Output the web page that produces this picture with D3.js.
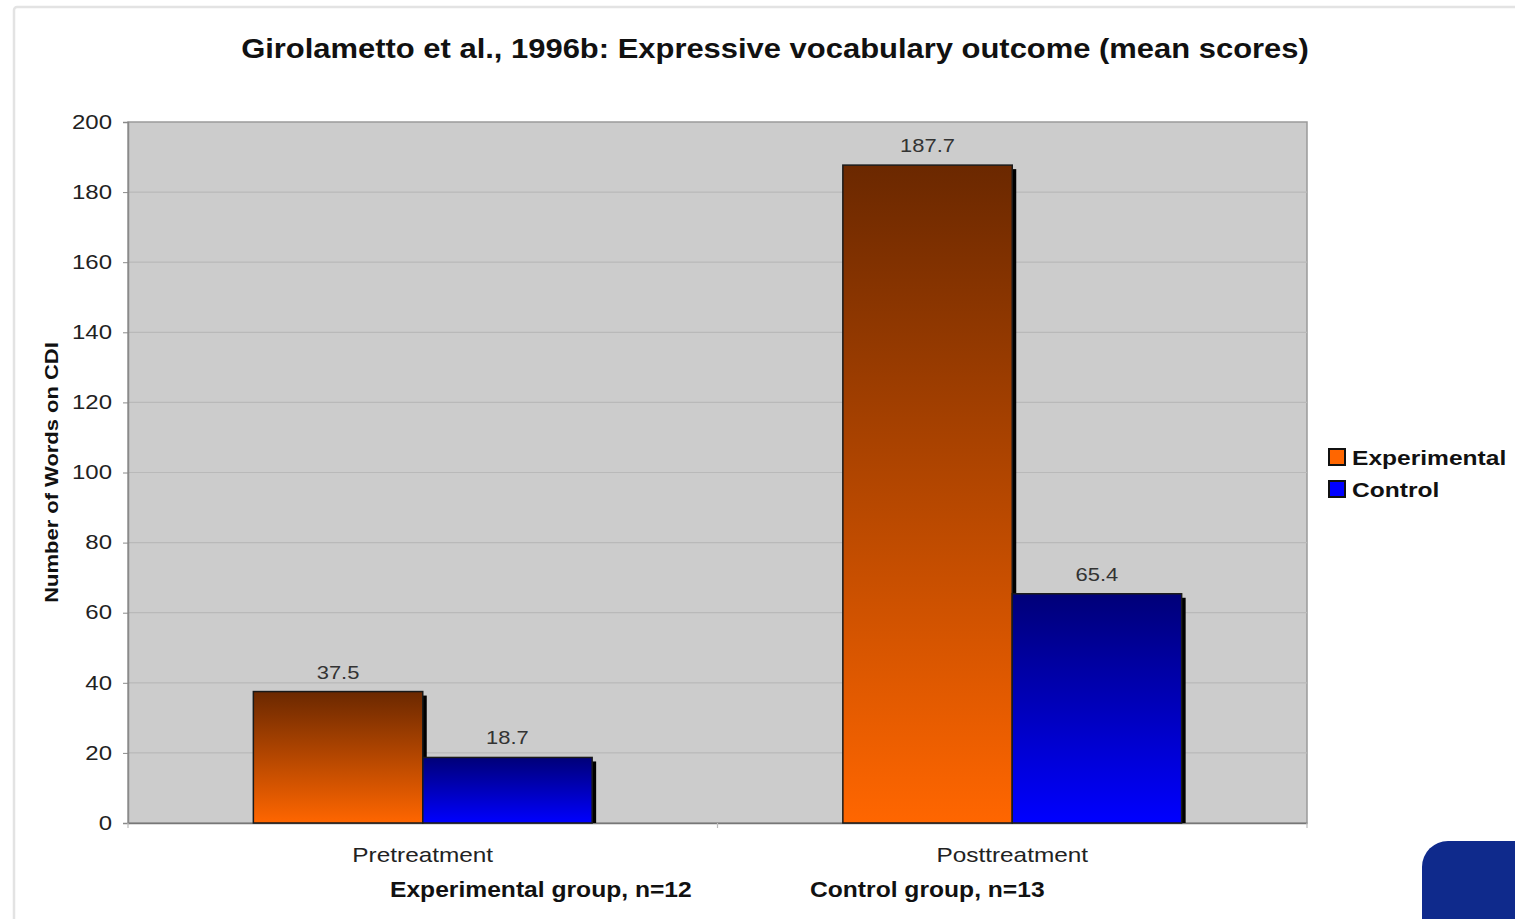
<!DOCTYPE html>
<html><head><meta charset="utf-8">
<script src="https://cdn.jsdelivr.net/npm/d3@7"></script>
<style>body{margin:0;background:#fff;}svg{display:block;font-family:"Liberation Sans",Arial,sans-serif;}</style>
</head><body>
<script>
const categories = ["Pretreatment", "Posttreatment"];
const seriesNames = ["Experimental", "Control"];
const experimental = [37.5, 187.7];
const control = [18.7, 65.4];
const yTicks = [0, 20, 40, 60, 80, 100, 120, 140, 160, 180, 200];
const title = "Girolametto et al., 1996b: Expressive vocabulary outcome (mean scores)";
const yTitle = "Number of Words on CDI";
const groupNotes = ["Experimental group, n=12", "Control group, n=13"];

const W = 1515, H = 919;
const svg = d3.select("body").append("svg").attr("width", W).attr("height", H);
const defs = svg.append("defs");
const grads = [["gExp", "#6b2800", "#ff6600"], ["gCtl", "#000078", "#0000ff"]];
grads.forEach(([id, top, bot]) => {
  const g = defs.append("linearGradient").attr("id", id).attr("x1", 0).attr("y1", 0).attr("x2", 0).attr("y2", 1);
  g.append("stop").attr("offset", "0%").attr("stop-color", top);
  g.append("stop").attr("offset", "100%").attr("stop-color", bot);
});

// horizontally stretch a text selection around its anchor x
function stretch(sel, sx) {
  sel.each(function() {
    const t = d3.select(this);
    const x = +t.attr("x") || 0;
    const prev = t.attr("transform") || "";
    t.attr("transform", `${prev} translate(${x},0) scale(${sx},1) translate(${-x},0)`);
  });
}

// outer chart frame
svg.append("rect").attr("x", 14).attr("y", 7).attr("width", 1540).attr("height", 960)
  .attr("rx", 3).attr("fill", "#fff").attr("stroke", "#e3e3e3").attr("stroke-width", 2.5);

const m = {l: 128, r: 1307, t: 122, b: 823};
const x0 = d3.scaleBand().domain(categories).range([m.l, m.r]).paddingInner(0).paddingOuter(0);
const y = d3.scaleLinear().domain([0, 200]).range([m.b, m.t]);
const x1 = d3.scaleBand().domain(seriesNames).range([0, x0.bandwidth()]).paddingInner(0).paddingOuter(0.74);

// plot area
svg.append("rect").attr("x", m.l).attr("y", m.t).attr("width", m.r - m.l).attr("height", m.b - m.t)
  .attr("fill", "#cccccc").attr("stroke", "#9a9a9a").attr("stroke-width", 1.5);

// gridlines
svg.append("g").selectAll("line").data(yTicks.filter(d => d > 0 && d < 200)).join("line")
  .attr("x1", m.l).attr("x2", m.r).attr("y1", d => y(d)).attr("y2", d => y(d))
  .attr("stroke", "#b9b9b9").attr("stroke-width", 1.2);

// y axis
const yAxis = svg.append("g").attr("transform", `translate(${m.l},0)`)
  .call(d3.axisLeft(y).tickValues(yTicks).tickSize(5).tickPadding(11));
yAxis.select(".domain").attr("stroke", "#8a8a8a").attr("stroke-width", 1.5);
yAxis.selectAll(".tick line").attr("stroke", "#8a8a8a");
yAxis.selectAll("text").attr("font-size", 19.5).attr("fill", "#222").attr("font-family", "Liberation Sans, Arial, sans-serif")
  .call(stretch, 1.23);

// x axis baseline + category boundary ticks
const xAxis = svg.append("g").attr("transform", `translate(0,${m.b})`)
  .call(d3.axisBottom(x0).tickSize(0).tickPadding(24));
xAxis.select(".domain").attr("stroke", "#777").attr("stroke-width", 1.5);
xAxis.selectAll("text").attr("font-size", 21).attr("fill", "#222").attr("font-family", "Liberation Sans, Arial, sans-serif")
  .call(stretch, 1.16);
svg.append("g").selectAll("line").data([m.l, x0(categories[1]), m.r]).join("line")
  .attr("x1", d => d).attr("x2", d => d).attr("y1", m.b).attr("y2", m.b + 5)
  .attr("stroke", "#bbb").attr("stroke-width", 1.2);

// bars
const data = categories.map((c, i) => ({cat: c, vals: [
  {s: seriesNames[0], v: experimental[i], fill: "url(#gExp)"},
  {s: seriesNames[1], v: control[i], fill: "url(#gCtl)"}]}));

const groups = svg.append("g").selectAll("g").data(data).join("g")
  .attr("transform", d => `translate(${x0(d.cat)},0)`);

groups.selectAll("rect.shadow").data(d => d.vals).join("rect").attr("class", "shadow")
  .attr("x", d => x1(d.s) + 4).attr("y", d => y(d.v) + 4)
  .attr("width", x1.bandwidth()).attr("height", d => m.b - y(d.v) - 4)
  .attr("fill", "#000");
groups.selectAll("rect.bar").data(d => d.vals).join("rect").attr("class", "bar")
  .attr("x", d => x1(d.s)).attr("y", d => y(d.v))
  .attr("width", x1.bandwidth()).attr("height", d => m.b - y(d.v))
  .attr("fill", d => d.fill).attr("stroke", "#1a1a1a").attr("stroke-width", 1.5);
groups.selectAll("text.val").data(d => d.vals).join("text").attr("class", "val")
  .attr("x", d => x1(d.s) + x1.bandwidth() / 2).attr("y", d => y(d.v) - 13)
  .attr("text-anchor", "middle").attr("font-size", 18).attr("fill", "#333")
  .text(d => d.v.toFixed(1))
  .call(stretch, 1.22);

// title
svg.append("text").attr("x", 775).attr("y", 58).attr("text-anchor", "middle")
  .attr("font-size", 28).attr("font-weight", "bold").attr("fill", "#111").text(title)
  .call(stretch, 1.105);

// y title
svg.append("text").attr("transform", `translate(58,${(m.t + m.b) / 2}) rotate(-90) scale(1.22,1)`)
  .attr("text-anchor", "middle").attr("font-size", 18).attr("font-weight", "bold").attr("fill", "#111").text(yTitle);

// group notes
svg.append("g").selectAll("text").data(groupNotes).join("text")
  .attr("x", (d, i) => [390, 810][i]).attr("y", 897)
  .attr("font-size", 22).attr("font-weight", "bold").attr("fill", "#111").text(d => d)
  .call(stretch, 1.12);

// legend
const legColors = ["#ff6600", "#0000ff"];
const leg = svg.append("g").selectAll("g").data(seriesNames).join("g")
  .attr("transform", (d, i) => `translate(1329,${449 + i * 32})`);
leg.append("rect").attr("width", 16).attr("height", 16).attr("fill", (d, i) => legColors[i])
  .attr("stroke", "#111").attr("stroke-width", 2);
leg.append("text").attr("x", 23).attr("y", 16).attr("font-size", 21).attr("font-weight", "bold").attr("fill", "#111").text(d => d)
  .call(stretch, 1.17);

// corner logo fragment
svg.append("rect").attr("x", 1422).attr("y", 841).attr("width", 140).attr("height", 140).attr("rx", 26)
  .attr("fill", "#0f2a8c");
</script>
</body></html>
